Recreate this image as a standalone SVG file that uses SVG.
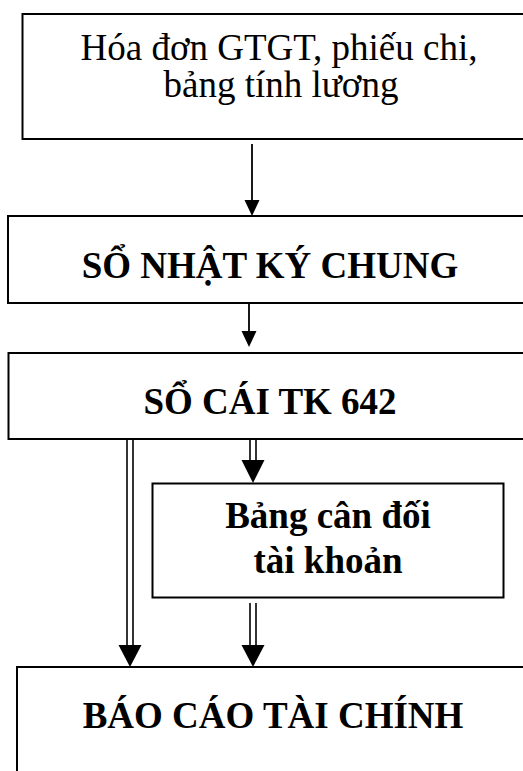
<svg xmlns="http://www.w3.org/2000/svg" width="523" height="771" viewBox="0 0 523 771">
<style>
.box{fill:#fff;stroke:#000;stroke-width:2}
.t{font-family:"Liberation Serif","Times New Roman",serif;font-size:37px;fill:#000;text-anchor:middle}
.b{font-weight:bold}
.ln{stroke:#000;stroke-width:1.8;fill:none}
.dl{stroke:#000;stroke-width:1.6;fill:none}
.hd{fill:#000;stroke:none}
</style>
<rect width="523" height="771" fill="#fff"/>
<g id="node-hoadon">
<rect class="box" x="22.5" y="14" width="530" height="125"/>
<text class="t" x="279" y="60">Hóa đơn GTGT, phiếu chi,</text>
<text class="t" x="281" y="97">bảng tính lương</text>
</g>
<g id="node-nhatky">
<rect class="box" x="8" y="216" width="540" height="87"/>
<text class="t b" x="270" y="278">SỔ NHẬT KÝ CHUNG</text>
</g>
<g id="node-socai">
<rect class="box" x="8.5" y="353" width="540" height="86"/>
<text class="t b" x="270" y="414">SỔ CÁI TK 642</text>
</g>
<g id="node-bangcandoi">
<rect class="box" x="152.5" y="483.5" width="351" height="114"/>
<text class="t b" x="328" y="528">Bảng cân đối</text>
<text class="t b" x="328" y="573">tài khoản</text>
</g>
<g id="node-baocao">
<rect class="box" x="17" y="667" width="540" height="130"/>
<text class="t b" x="273" y="728">BÁO CÁO TÀI CHÍNH</text>
</g>
<g id="connectors">
<line class="ln" x1="252" y1="144" x2="252" y2="202"/>
<polygon class="hd" points="244.5,200 259.5,200 252,216"/>
<line class="ln" x1="249" y1="303" x2="249" y2="333"/>
<polygon class="hd" points="241.5,331 256.5,331 249,347"/>
<line class="dl" x1="127" y1="439" x2="127" y2="647"/>
<line class="dl" x1="133" y1="439" x2="133" y2="647"/>
<polygon class="hd" points="118.5,645 141.5,645 130,667"/>
<line class="dl" x1="250" y1="439" x2="250" y2="462"/>
<line class="dl" x1="256" y1="439" x2="256" y2="462"/>
<polygon class="hd" points="241.5,460 264.5,460 253,483"/>
<line class="dl" x1="250" y1="603" x2="250" y2="647"/>
<line class="dl" x1="256" y1="603" x2="256" y2="647"/>
<polygon class="hd" points="241.5,645 264.5,645 253,667"/>
</g>
</svg>
